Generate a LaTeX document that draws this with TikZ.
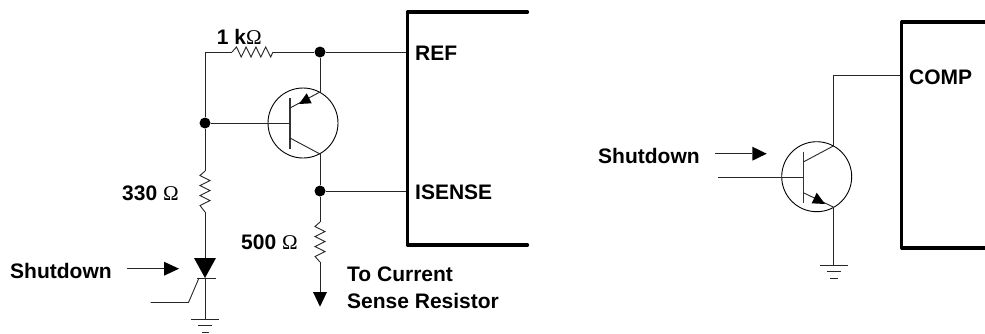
\documentclass[tikz,border=0pt]{standalone}
\usepackage{fontspec}
\setmainfont{Liberation Sans}
\newfontfamily\omfont{Liberation Serif}
\newcommand{\ohmsym}{{\omfont\mdseries Ω}}
\tikzset{
  x=1pt,y=-1pt,
  wire/.style={line width=0.9pt,draw=black!85},
  chip/.style={line width=3.2pt,draw=black,line cap=round,line join=round},
  dot/.style={circle,fill=black,inner sep=0pt,minimum size=11pt},
  qcircle/.style={circle,draw=black,line width=0.9pt,inner sep=0pt,minimum size=70pt},
  lab/.style={font=\fontsize{21}{21}\selectfont\bfseries,inner sep=0pt,anchor=west},
  tip/.style={fill=black,draw=none},
}
\begin{document}
\begin{tikzpicture}
\useasboundingbox (0,0) rectangle (985,333);
\fill[white] (0,0) rectangle (985,333);
% ---- left circuit coordinates
\coordinate (corner) at (205,52);
\node[dot] (top) at (320,52) {};
\node[dot] (bj) at (205,123) {};
\node[dot] (sj) at (320,191) {};
\node[qcircle] (q1) at (303,123) {};
\coordinate (q1b) at (290,123);
\coordinate (q1e) at (320,92);
\coordinate (q1c) at (320,154);
\coordinate (r1a) at (232,52);
\coordinate (r1b) at (273,52);
\coordinate (r2a) at (205,171);
\coordinate (r2b) at (205,212);
\coordinate (r3a) at (320,222);
\coordinate (r3b) at (320,262);
\coordinate (refp) at (407.5,52);
\coordinate (isp) at (407.5,191);
\coordinate (scrtop) at (205,258);
\coordinate (scrk) at (205,278);
\coordinate (g1) at (205,319.5);
\coordinate (a3) at (320,292);
% wires
\draw[wire] (r1a) -- (corner) -- (bj) -- (r2a);
\draw[wire] (r1b) -- (top) -- (refp);
\draw[wire] (top) -- (q1e);
\draw[wire] (q1c) -- (sj) -- (r3a);
\draw[wire] (sj) -- (isp);
\draw[wire] (bj) -- (q1b);
\draw[wire] (r3b) -- (a3);
\draw[wire] (r2b) -- (scrtop);
\draw[wire] (scrk) -- (g1);
% resistors
\draw[wire,line join=miter] (r1a) -- ++(4.5,-5) -- ++(4.7,10) -- ++(4.9,-10) -- ++(4.9,10) -- ++(4.9,-10) -- ++(4.9,10) -- ++(4.9,-10) -- ++(5,10) -- (r1b);
\draw[wire] (r2a) -- ++(-5,4.5) -- ++(10,5) -- ++(-10,5) -- ++(10,5) -- ++(-10,5) -- ++(10,5) -- ++(-10,5) -- (r2b);
\draw[wire] (r3a) -- ++(-5,4.5) -- ++(10,5) -- ++(-10,5) -- ++(10,5) -- ++(-10,5) -- ++(10,5) -- ++(-10,5) -- (r3b);
% transistor 1
\draw[line width=1.1pt,draw=black!80] (290,98) -- (290,149);
\draw[wire] (290,108) -- (q1e);
\draw[wire] (290,138) -- (q1c);
\fill[tip] (306.7,93.3) -- (299,104) -- (311.7,103.3) -- cycle;
% SCR
\fill[tip] (194,258) -- (216,258) -- (205,278) -- cycle;
\draw[wire] (197,278) -- (216,278);
\draw[wire] (199,278) -- (188.5,302.5) -- (150.7,302.5);
% grounds
\draw[wire] (191,319.5) -- (219,319.5);
\draw[wire] (198,325.7) -- (212,325.7);
\draw[wire] (202,332) -- (209,332);
% down arrow
\fill[tip] (313,292) -- (327,292) -- (320,306.7) -- cycle;
% shutdown arrow
\coordinate (s1a) at (127,268.7);
\coordinate (s1b) at (164,268.7);
\draw[wire] (s1a) -- (s1b);
\fill[tip] (164,261.7) -- (179,268.7) -- (164,275.7) -- cycle;
% chip 1
\draw[chip] (527.5,12) -- (407.5,12) -- (407.5,245) -- (527.5,245);
% labels 1
\node[lab] (t1k) at (216.7,37) {1 k\ohmsym};
\node[lab] (t330) at (122,193) {330 \ohmsym};
\node[lab] (t500) at (241,242) {500 \ohmsym};
\node[lab] (tsd1) at (10,270.7) {Shutdown};
\node[lab] (tref) at (415,53) {REF};
\node[lab] (tis) at (415,192) {ISENSE};
\node[lab] (tcur) at (347,274) {To Current};
\node[lab] (tsen) at (347,301) {Sense Resistor};
% ---- right circuit
\node[qcircle] (q2) at (816.7,176.7) {};
\coordinate (q2b) at (803.3,177.3);
\coordinate (q2bin) at (718.3,177.3);
\coordinate (q2c) at (833.3,146);
\coordinate (q2e) at (833.3,207);
\coordinate (q2k) at (833.3,75.7);
\coordinate (compp) at (901.7,75.7);
\coordinate (g2) at (833.3,265);
\draw[wire] (q2bin) -- (q2b);
\draw[wire] (q2c) -- (q2k) -- (compp);
\draw[wire] (q2e) -- (g2);
\draw[line width=1.1pt,draw=black!80] (803.3,151.7) -- (803.3,203.3);
\draw[wire] (803.3,162) -- (q2c);
\draw[wire] (803.3,192.7) -- (q2e);
\fill[tip] (816.7,192.7) -- (811.7,203.3) -- (825,204) -- cycle;
\draw[wire] (820,265) -- (847.7,265);
\draw[wire] (826.7,271.7) -- (841,271.7);
\draw[wire] (830,278.7) -- (837.7,278.7);
\coordinate (s2a) at (715,153.7);
\coordinate (s2b) at (752.3,153.7);
\draw[wire] (s2a) -- (s2b);
\fill[tip] (752.3,146.7) -- (766.7,153.7) -- (752.3,160.7) -- cycle;
\draw[chip] (985,22) -- (901.7,22) -- (901.7,248) -- (985,248);
\node[lab] (tcomp) at (909,77) {COMP};
\node[lab] (tsd2) at (598,156) {Shutdown};
\end{tikzpicture}
\end{document}
